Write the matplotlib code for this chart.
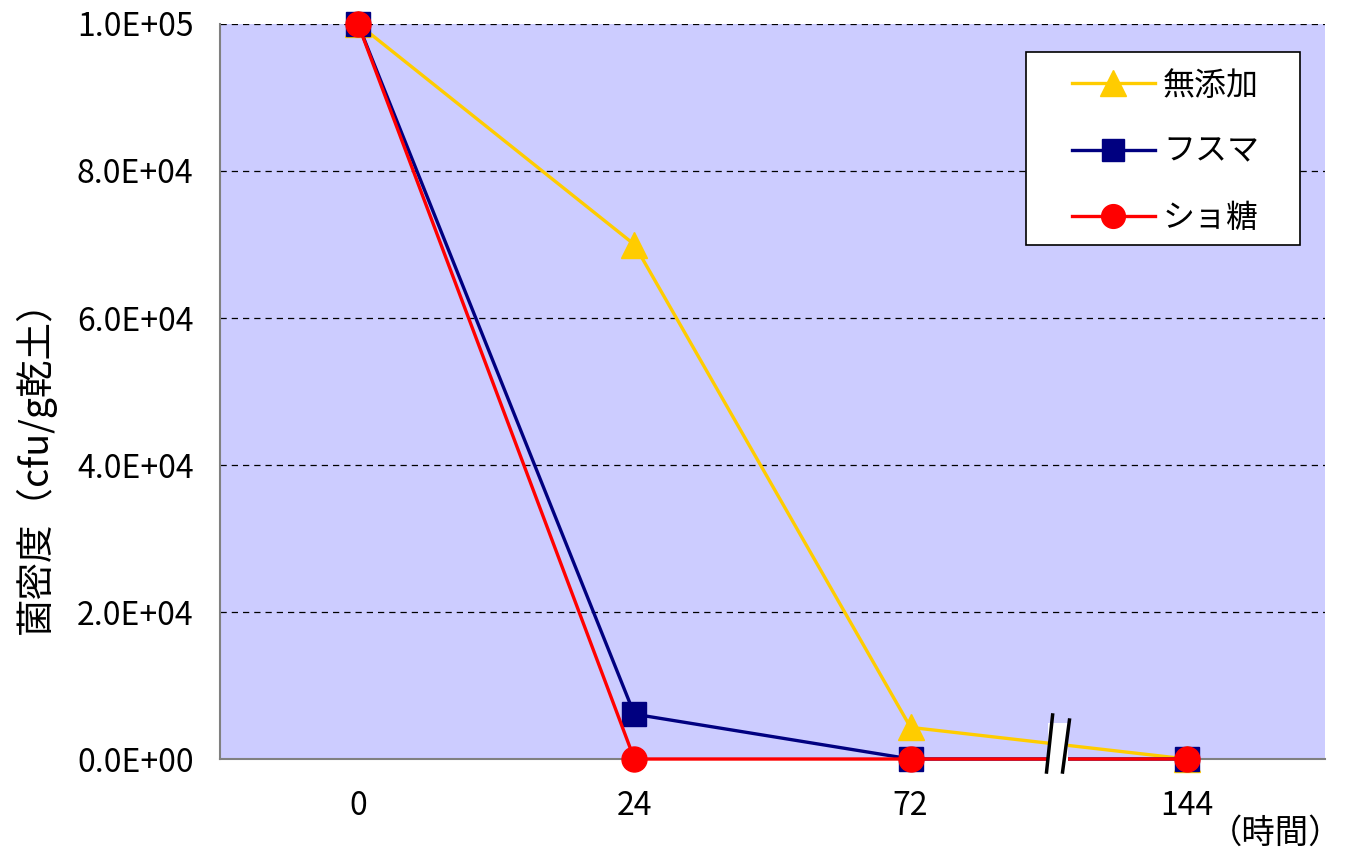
import matplotlib
matplotlib.use('Agg')
import matplotlib.pyplot as plt
from matplotlib.patches import Rectangle
from matplotlib.lines import Line2D
from matplotlib.ticker import FuncFormatter

plt.rcParams['font.family'] = ['Noto Sans CJK JP', 'DejaVu Sans']

hours = ['0', '24', '72', '144']
mutenka = [100000, 70000, 4300, 0]
fusuma = [100000, 6100, 0, 0]
shoto = [100000, 0, 0, 0]
labels = ['無添加', 'フスマ', 'ショ糖']

fig = plt.figure(figsize=(13.46, 8.51), dpi=100)
ax = fig.add_axes([0.1634, 0.1081, 0.8210, 0.8637])
ax.set_facecolor('#CCCCFF')

x = range(len(hours))
ax.plot(x, mutenka, color='#FFCC00', lw=2.4, marker='^', ms=19,
        mec='#FFCC00', label=labels[0], zorder=3, clip_on=False)
ax.plot(x, fusuma, color='#000080', lw=2.4, marker='s', ms=17,
        label=labels[1], zorder=4, clip_on=False)
ax.plot(x, shoto, color='#FF0000', lw=2.4, marker='o', ms=18,
        label=labels[2], zorder=5, clip_on=False)

ax.set_xlim(-0.5, 3.5)
ax.set_ylim(0, 100000)
ax.set_xticks(list(x))
ax.set_xticklabels(hours)
ax.set_yticks([0, 20000, 40000, 60000, 80000, 100000])
ax.yaxis.set_major_formatter(FuncFormatter(lambda v, p: '%.1E' % v))
ax.tick_params(axis='both', length=0, labelsize=23)
ax.tick_params(axis='y', pad=19)
ax.tick_params(axis='x', pad=22)
ax.yaxis.grid(True, color='black', ls=(0, (5, 4)), lw=0.9)
ax.set_axisbelow(True)
for s in ['top', 'right']:
    ax.spines[s].set_visible(False)
ax.spines['left'].set_color('#808080')
ax.spines['bottom'].set_color('#808080')
ax.spines['left'].set_linewidth(1.5)
ax.spines['bottom'].set_linewidth(1.5)

# axis break mark between 72 and 144
ax.add_patch(Rectangle((2.499, -1800), 0.069, 6700, facecolor='white',
                       edgecolor='none', zorder=6, clip_on=False))
ax.add_line(Line2D([2.492, 2.514], [-1770, 5990], color='black', lw=2.5,
                   zorder=7, clip_on=False))
ax.add_line(Line2D([2.550, 2.575], [-1770, 5300], color='black', lw=2.5,
                   zorder=7, clip_on=False))

fig.text(0.026, 0.462, '菌密度（cfu/g乾土）', fontsize=27, rotation=90,
         ha='center', va='center')
fig.text(0.997, 0.0, '（時間）', fontsize=24, ha='right', va='bottom')

# legend box drawn separately so it can be wider than the entries
ax.add_patch(Rectangle((0.7294, 0.6993), 0.248, 0.2626, transform=ax.transAxes,
                       facecolor='white', edgecolor='black', lw=1.2,
                       zorder=9))
leg = ax.legend(loc='upper left', bbox_to_anchor=(0.771, 0.938), fontsize=23,
                frameon=False, borderpad=0, labelspacing=1.07,
                handlelength=2.6, handletextpad=0.25, borderaxespad=0,
                markerscale=0.95)
leg.set_zorder(10)

fig.savefig('out.png', dpi=100)
